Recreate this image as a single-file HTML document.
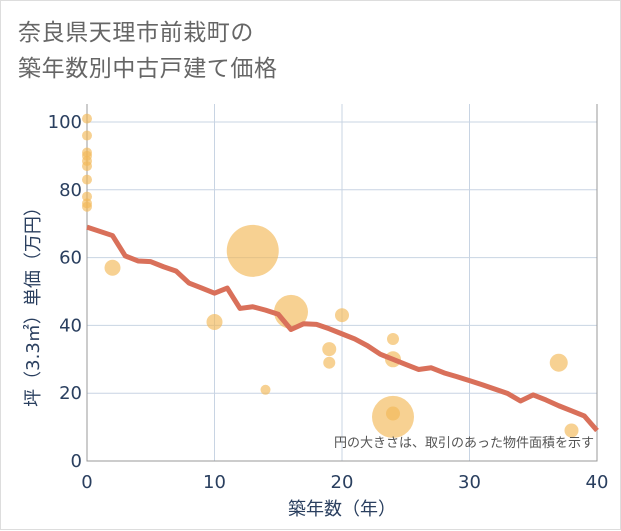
<!DOCTYPE html>
<html><head><meta charset="utf-8"><style>
body{margin:0;background:#fff;}
#wrap{position:relative;width:619px;height:528px;border:1px solid #ddd;background:#fff;font-family:"Liberation Sans","Noto Sans CJK JP",sans-serif;}
#title{position:absolute;left:17px;top:13px;font-size:23px;line-height:36px;color:#666;letter-spacing:0.6px;}
svg{position:absolute;left:0;top:0;}
</style></head><body>
<div id="wrap">
<div id="title">奈良県天理市前栽町の<br>築年数別中古戸建て価格</div>
<svg id="chart" width="621" height="530" font-family="DejaVu Sans, Noto Sans CJK JP, sans-serif"></svg>
</div>
<script>
const xTicks=[0,10,20,30,40];
const yTicks=[0,20,40,60,80,100];
const lineX=[0,2,3,4,5,6,7,8,9,10,11,12,13,14,15,16,17,18,19,20,21,22,23,24,25,26,27,28,29,30,31,32,33,34,35,36,37,38,39,40];
const lineY=[69,66.5,60.5,59,58.8,57.3,56,52.5,51,49.5,51,45,45.5,44.5,43.3,38.8,40.5,40.3,39,37.5,36,34,31.5,30,28.5,27,27.5,26,24.9,23.7,22.5,21.2,19.9,17.7,19.5,18,16.3,14.8,13.3,9];
const ptX=[0,0,0,0,0,0,0,0,0,0,2,10,13,14,16,20,19,19,24,24,24,24,37,38];
const ptY=[101,96,91,90,88.5,87,83,78,76,75,57,41,62,21,44,43,33,29,36,30,13,14,29,9];
const ptR=[5,5,5,5,5,5,5,5,5,5,8,8,26,5,17,7,7,6,6,8,21,7,9,7];
const NS="http://www.w3.org/2000/svg";
const svg=document.getElementById('chart');
const L=86,R=596,T=103,B=460;
const sx=v=>L+v*(R-L)/40;
const sy=v=>B-v*3.39;
function mk(t,a){const e=document.createElementNS(NS,t);for(const k in a)e.setAttribute(k,a[k]);svg.appendChild(e);return e;}
let e=mk('rect',{x:L,y:T,width:R-L,height:B-T,fill:'#fff'});


xTicks.forEach(v=>{
 let g=mk('line',{x1:sx(v),x2:sx(v),y1:T,y2:B,stroke:'#c8d4e3','stroke-width':1});
 
 
 let t=mk('text',{x:sx(v),y:487,'text-anchor':'middle','font-size':18,fill:'#2a3f5f'});t.textContent=v;
 
 
});
yTicks.forEach(v=>{
 let g=mk('line',{x1:L,x2:R,y1:sy(v),y2:sy(v),stroke:'#c8d4e3','stroke-width':1});
 
 
 let t=mk('text',{x:81,y:sy(v)+6,'text-anchor':'end','font-size':18,fill:'#2a3f5f'});t.textContent=v;
 
 
});
let ax=mk('path',{d:`M${L},${T}V${B}H${R}V${T}`,fill:'none',stroke:'#999','stroke-width':1});


ptX.forEach((x,i)=>{
 let c=mk('circle',{cx:sx(x),cy:sy(ptY[i]),r:ptR[i],fill:'#f2b857','fill-opacity':0.65});
 
 
});
let p=mk('polyline',{points:lineX.map((x,i)=>sx(x)+','+sy(lineY[i])).join(' '),fill:'none',stroke:'#d9705a','stroke-width':5,'stroke-linejoin':'round'});


let n=mk('text',{x:593,y:446,'text-anchor':'end','font-size':13,fill:'#555'});n.textContent='円の大きさは、取引のあった物件面積を示す';


let xt=mk('text',{x:sx(20),y:514,'text-anchor':'middle','font-size':18,fill:'#2a3f5f'});xt.textContent='築年数（年）';


let yt=mk('text',{x:0,y:0,'text-anchor':'middle','font-size':18,fill:'#2a3f5f',transform:`translate(38,${(T+B)/2+20}) rotate(-90)`});yt.textContent='坪（3.3㎡）単価（万円）';


</script>
</body></html>
